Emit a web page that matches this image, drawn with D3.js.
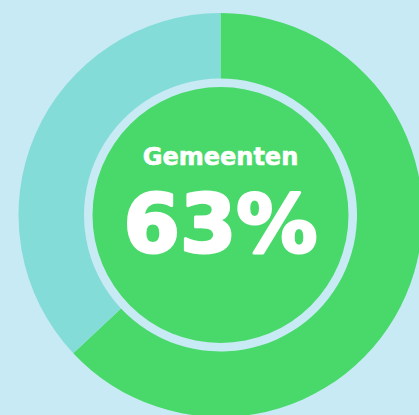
<!DOCTYPE html>
<html>
<head>
<meta charset="utf-8">
<script src="https://cdn.jsdelivr.net/npm/d3@7"></script>
<style>
html,body{margin:0;padding:0;background:#c8eaf4;overflow:hidden;}
svg{display:block;}
</style>
</head>
<body>
<div id="chart"></div>
<script>
const categories = ["Gemeenten", "Overig"];
const values = [63, 37];
const label = "Gemeenten";
const valueLabel = "63%";
const colors = ["#48d96a", "#84dcd9"];

const W = 419, H = 415;
const cx = 220.5, cy = 215;
const outerR = 202, innerR = 136.5, circleR = 128;

const svg = d3.select("#chart").append("svg")
  .attr("width", W).attr("height", H);
svg.append("rect").attr("width", W).attr("height", H).attr("fill", "#c8eaf4");

const g = svg.append("g").attr("transform", `translate(${cx},${cy})`);
const pie = d3.pie().sort(null).value(d => d)(values);
const arc = d3.arc().innerRadius(innerR).outerRadius(outerR);
const color = d3.scaleOrdinal().domain(categories).range(colors);

g.selectAll("path.slice").data(pie).join("path")
  .attr("class", "slice")
  .attr("d", arc)
  .attr("fill", (d, i) => color(categories[i]));

g.append("circle").attr("r", circleR).attr("fill", colors[0]);

g.append("text")
  .attr("x", 0).attr("y", 164.7 - cy)
  .attr("text-anchor", "middle")
  .attr("font-family", "DejaVu Sans, sans-serif")
  .attr("font-weight", "bold")
  .attr("font-size", 24)
  .attr("fill", "#ffffff")
  .attr("stroke", "#ffffff")
  .attr("stroke-width", 0.6)
  .text(label);

g.append("text")
  .attr("x", 0).attr("y", 252 - cy)
  .attr("text-anchor", "middle")
  .attr("font-family", "DejaVu Sans, sans-serif")
  .attr("font-weight", "bold")
  .attr("font-size", 81)
  .attr("fill", "#ffffff")
  .attr("stroke", "#ffffff")
  .attr("stroke-width", 3)
  .attr("stroke-linejoin", "round")
  .text(valueLabel);
</script>
</body>
</html>
